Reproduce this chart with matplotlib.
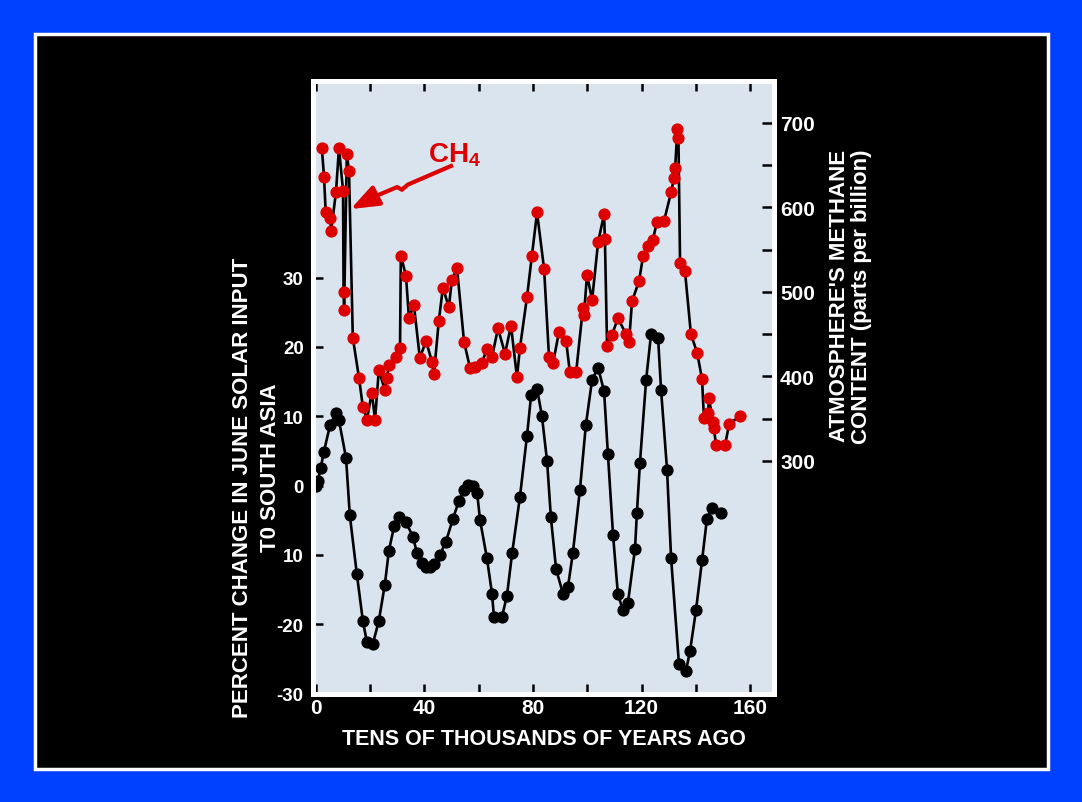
import matplotlib
matplotlib.use("Agg")
import matplotlib.pyplot as plt
from matplotlib.patches import Rectangle

# ---------------------------------------------------------------------
# Data
# ---------------------------------------------------------------------

# June solar input change, percent (left axis)
solar_age = [0.0, 0.7, 1.8, 2.9, 5.2, 7.4, 8.5, 11.1, 12.5, 15.1, 17.3, 18.8,
             21.0, 23.2, 25.4, 26.9, 28.8, 30.6, 33.2, 35.8, 37.2, 39.1, 40.6,
             42.0, 43.5, 45.7, 47.9, 50.5, 52.7, 54.6, 56.0, 57.9, 59.4, 60.5,
             63.0, 64.9, 65.6, 68.6, 70.4, 72.3, 75.2, 77.8, 79.3, 81.5, 83.3,
             85.2, 86.6, 88.5, 91.1, 92.9, 94.7, 97.3, 99.5, 101.8, 104.0,
             106.2, 107.6, 109.5, 111.3, 113.2, 115.0, 117.6, 118.3, 119.4,
             121.7, 123.5, 126.1, 127.2, 129.4, 130.9, 133.8, 136.4, 137.9,
             140.1, 142.3, 144.1, 146.0, 149.3]
solar_pct = [0.0, 0.6, 2.6, 4.8, 8.7, 10.5, 9.4, 4.0, -4.3, -12.8, -19.5, -22.6,
             -22.8, -19.5, -14.3, -9.4, -5.9, -4.6, -5.3, -7.4, -9.7, -11.1, -11.7,
             -11.8, -11.3, -10.0, -8.1, -4.8, -2.2, -0.6, 0.1, -0.1, -1.0, -5.0,
             -10.4, -15.6, -18.9, -18.9, -15.9, -9.8, -1.6, 7.2, 13.0, 14.0, 10.0,
             3.5, -4.6, -12.0, -15.7, -14.6, -9.7, -0.6, 8.8, 15.3, 17.0,
             13.6, 4.6, -7.1, -15.7, -18.0, -16.9, -9.1, -3.9, 3.2,
             15.3, 21.8, 21.3, 13.8, 2.3, -10.5, -25.8, -26.7, -23.8,
             -17.9, -10.8, -4.8, -3.2, -4.0]

# atmospheric methane, ppb (right axis)
ch4_age = [2.2, 3.0, 3.6, 5.2, 5.6, 7.4, 8.5, 10.0, 10.2, 10.4, 11.4, 12.2,
           13.6, 15.9, 17.3, 18.8, 20.6, 21.8, 23.2, 25.4, 26.2, 26.9, 29.5,
           31.0, 31.3, 33.2, 34.3, 36.1, 38.3, 40.6, 42.8, 43.5, 45.3, 46.8,
           49.0, 50.1, 52.0, 54.6, 56.8, 58.6, 61.2, 63.0, 64.9, 67.1, 69.7,
           71.9, 74.1, 75.2, 77.8, 79.6, 81.5, 84.1, 85.9, 87.4, 89.6, 92.2,
           93.6, 95.9, 98.4, 98.8, 99.9, 101.8, 104.0, 106.2, 106.5, 107.3,
           109.1, 111.3, 114.3, 115.4, 116.5, 119.1, 120.6, 122.4, 124.2,
           125.7, 128.3, 130.9, 132.0, 132.4, 133.2, 133.6, 134.2, 136.0,
           138.2, 140.5, 142.3, 143.0, 144.5, 144.9, 146.2, 146.6, 147.5,
           150.8, 152.3, 156.3]
ch4_ppb = [670, 636, 595, 588, 572, 618, 670, 620, 500, 479, 663, 643,
           446, 398, 364, 349, 381, 349, 408, 384, 398, 414, 423,
           434, 543, 519, 469, 485, 422, 442, 417, 403, 466, 505,
           482, 514, 528, 441, 410, 411, 416, 433, 423, 457, 427,
           460, 399, 434, 494, 543, 594, 527, 423, 416, 453, 442,
           405, 405, 481, 473, 520, 491, 559, 592, 563, 436,
           449, 469, 450, 441, 489, 513, 543, 554, 562,
           583, 584, 618, 635, 647, 693, 682, 534, 525,
           450, 428, 397, 351, 357, 375, 346, 339, 319,
           319, 344, 353]

solar_ticks = [-30, -20, -10, 0, 10, 20, 30]
solar_tick_labels = ["-30", "-20", "10", "0", "10", "20", "30"]
age_ticks = [0, 20, 40, 60, 80, 100, 120, 140, 160]
age_tick_labels = ["0", "", "40", "", "80", "", "120", "", "160"]
ch4_ticks = [300, 350, 400, 450, 500, 550, 600, 650, 700]
ch4_tick_labels = ["300", "", "400", "", "500", "", "600", "", "700"]

# arrow pointing at the methane curve (right axis coordinates)
arrow_age = [50.5, 33.9, 31.7, 29.9, 22.5]
arrow_ppb = [650, 627, 621, 624, 614]
arrow_tip = (12.8, 598)

# ---------------------------------------------------------------------
# Style
# ---------------------------------------------------------------------

BLUE = "#0040ff"
PANEL = "#d9e4ef"
RED = "#dd0000"

plt.rcParams["font.family"] = ["Liberation Sans", "DejaVu Sans"]
plt.rcParams["font.weight"] = "bold"
plt.rcParams["mathtext.fontset"] = "custom"
plt.rcParams["mathtext.rm"] = "Liberation Sans:bold"
plt.rcParams["mathtext.bf"] = "Liberation Sans:bold"

fig = plt.figure(figsize=(10.82, 8.03), dpi=100, facecolor=BLUE)

# black slide panel with thin white frame
bg = fig.add_axes([0, 0, 1, 1], zorder=-10)
bg.set_axis_off()
bg.set_xlim(0, 1)
bg.set_ylim(0, 1)
bg.add_patch(Rectangle((0.0323, 0.0411), 0.9362, 0.9153,
                       facecolor="black", edgecolor="white", linewidth=2.5))

ax = fig.add_axes([0.2897, 0.1351, 0.4261, 0.7622])
ax.set_facecolor(PANEL)
ax2 = ax.twinx()

ax.set_xlim(-0.9, 169)
ax.set_ylim(-30, 58.3)
ax2.set_ylim(24.9, 749)

# solar series
ax.plot(solar_age, solar_pct, color="black", lw=1.9, marker="o",
        markersize=7.8, markerfacecolor="black", markeredgecolor="black",
        zorder=3)

# methane series
ax2.plot(ch4_age, ch4_ppb, color="black", lw=1.9, marker="o",
         markersize=7.8, markerfacecolor=RED, markeredgecolor=RED, zorder=3)

# CH4 label with the squiggly arrow
ax2.text(41.3, 663, r"CH$_{\mathbf{4}}$", color=RED, fontsize=20,
         fontweight="bold", ha="left", va="center")
ax2.plot(arrow_age, arrow_ppb, color=RED, lw=3.0, solid_capstyle="butt",
         solid_joinstyle="miter", zorder=4)
ax2.annotate("", xy=arrow_tip, xytext=(arrow_age[-1], arrow_ppb[-1]),
             arrowprops=dict(arrowstyle="-|>,head_length=1.0,head_width=0.38",
                             color=RED, lw=3.0, mutation_scale=17,
                             shrinkA=0, shrinkB=0),
             zorder=4)

# ticks
ax.set_yticks(solar_ticks)
ax.set_yticklabels(solar_tick_labels, fontsize=13.5, fontweight="bold",
                   color="white")
ax.set_xticks(age_ticks)
ax.set_xticklabels(age_tick_labels, fontsize=15, fontweight="bold",
                   color="white")
ax.tick_params(axis="y", direction="in", length=7, width=1.8,
               color="black", pad=7, left=True, right=False)
ax.tick_params(axis="x", direction="in", length=7, width=1.8,
               color="black", pad=3, bottom=True, top=True)

ax2.set_yticks(ch4_ticks)
ax2.set_yticklabels(ch4_tick_labels, fontsize=15, fontweight="bold",
                    color="white")
ax2.tick_params(axis="y", direction="in", length=9, width=1.8,
                color="black", pad=4)

for a in (ax, ax2):
    for s in a.spines.values():
        s.set_color("white")
        s.set_linewidth(3.5)

# axis labels
ax.set_xlabel("TENS OF THOUSANDS OF YEARS AGO", fontsize=15.5,
              fontweight="bold", color="white", labelpad=8)
fig.text(0.2245, 0.392, "PERCENT CHANGE IN JUNE SOLAR INPUT",
         rotation=90, ha="center", va="center",
         fontsize=16, fontweight="bold", color="white")
fig.text(0.2500, 0.417, "T0 SOUTH ASIA",
         rotation=90, ha="center", va="center",
         fontsize=16, fontweight="bold", color="white")
fig.text(0.786, 0.631, "ATMOSPHERE'S METHANE\nCONTENT (parts per billion)",
         rotation=90, ha="center", va="center", multialignment="center",
         fontsize=16, fontweight="bold", color="white", linespacing=1.05)

fig.savefig("out.png", dpi=100, facecolor=fig.get_facecolor())
